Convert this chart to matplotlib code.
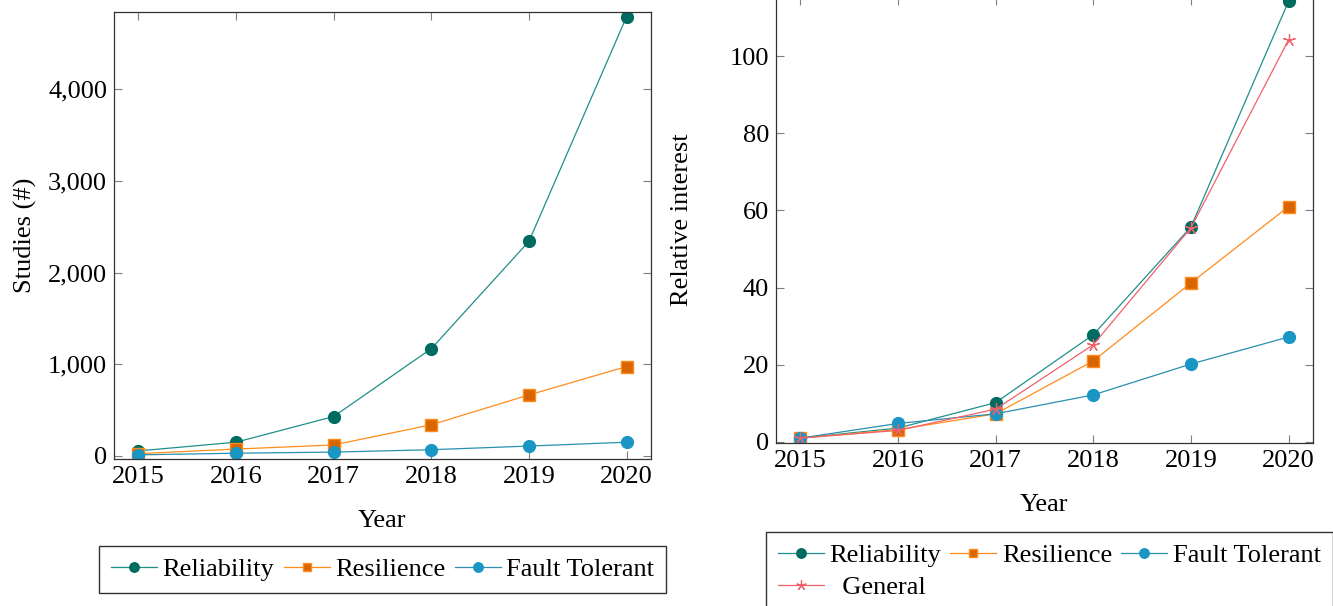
import numpy as np
import matplotlib
matplotlib.use("Agg")
import matplotlib.pyplot as plt
from matplotlib.ticker import FuncFormatter

years = [2015, 2016, 2017, 2018, 2019, 2020]

# number of published studies per keyword
studies_reliability = [55, 150, 430, 1170, 2340, 4790]
studies_resilience = [25, 75, 120, 340, 665, 975]
studies_fault_tolerant = [12, 30, 42, 68, 108, 150]

# relative search interest per keyword
interest_reliability = [1.0, 3.6, 10.2, 27.8, 55.7, 114.2]
interest_resilience = [1.0, 3.2, 7.3, 21.0, 41.2, 61.0]
interest_fault_tolerant = [1.0, 4.8, 7.3, 12.2, 20.2, 27.2]
interest_general = [1.0, 3.0, 8.5, 25.2, 55.5, 104.2]

serif = "Liberation Serif"
fs = 19

styles = {
    "Reliability": dict(color="#1f8f8a", marker="o", mfc="#006b60", mec="#006b60", ms=8.5),
    "Resilience": dict(color="#ff8c1a", marker="s", mfc="#d96500", mec="#ff8c1a", ms=8),
    "Fault Tolerant": dict(color="#2a8fb0", marker="o", mfc="#1a96c4", mec="#1a96c4", ms=8.5),
    "General": dict(color="#f2606c", marker=(5, 2, 0), mfc="none", mec="#f2606c", ms=9, mew=0.9),
}

fig = plt.figure(figsize=(13.33, 6.06), dpi=100)
ax1 = fig.add_axes([0.0855, 0.2426, 0.4029, 0.7376])
ax2 = fig.add_axes([0.5821, 0.269, 0.4029, 0.736])


def style_axes(ax):
    ax.set_xlim(2014.75, 2020.25)
    ax.set_xticks(years)
    ax.tick_params(direction="in", length=6, width=0.8, color="#7f7f7f",
                   top=True, right=True, labelsize=fs, pad=5)
    for lab in ax.get_xticklabels() + ax.get_yticklabels():
        lab.set_fontfamily(serif)
    for s in ax.spines.values():
        s.set_linewidth(0.9)
        s.set_color("#333333")
    ax.set_xlabel("Year", fontsize=fs, fontfamily=serif, labelpad=16)


def legend(ax, handles, labels, loc, anchor):
    leg = ax.legend(handles, labels, ncol=3, loc=loc, bbox_to_anchor=anchor,
                    bbox_transform=fig.transFigure, borderaxespad=0,
                    prop={"family": serif, "size": fs}, frameon=True, fancybox=False,
                    edgecolor="black", handlelength=1.75, handletextpad=0.2,
                    columnspacing=0.35, borderpad=0.45, labelspacing=0.3,
                    markerscale=0.8)
    leg.get_frame().set_linewidth(1.0)
    return leg


# left: studies
ax1.plot(years, studies_reliability, lw=0.9, label="Reliability", **styles["Reliability"])
ax1.plot(years, studies_resilience, lw=0.9, label="Resilience", **styles["Resilience"])
ax1.plot(years, studies_fault_tolerant, lw=0.9, label="Fault Tolerant", **styles["Fault Tolerant"])
ax1.set_ylim(-33, 4840)
ax1.set_yticks([0, 1000, 2000, 3000, 4000])
ax1.yaxis.set_major_formatter(FuncFormatter(lambda v, p: f"{int(v):,}"))
style_axes(ax1)
ax1.set_ylabel("Studies (#)", fontsize=fs, fontfamily=serif, labelpad=8)
h, l = ax1.get_legend_handles_labels()
legend(ax1, h, l, "upper center", (0.287, 0.099))

# right: relative interest
ax2.plot(years, interest_reliability, lw=0.9, label="Reliability", **styles["Reliability"])
ax2.plot(years, interest_resilience, lw=0.9, label="Resilience", **styles["Resilience"])
ax2.plot(years, interest_fault_tolerant, lw=0.9, label="Fault Tolerant", **styles["Fault Tolerant"])
ax2.plot(years, interest_general, lw=0.9, label="  General", **styles["General"])
ax2.set_ylim(-0.26, 115.3)
ax2.set_yticks([0, 20, 40, 60, 80, 100])
style_axes(ax2)
ax2.set_ylabel("Relative interest", fontsize=fs, fontfamily=serif, labelpad=26)
h, l = ax2.get_legend_handles_labels()
# row-wise order: three entries on the first row, General on the second
order = [0, 3, 1, 2]
legend(ax2, [h[i] for i in order], [l[i] for i in order], "upper left", (0.5746, 0.122))

fig.savefig("out.png", dpi=100)
